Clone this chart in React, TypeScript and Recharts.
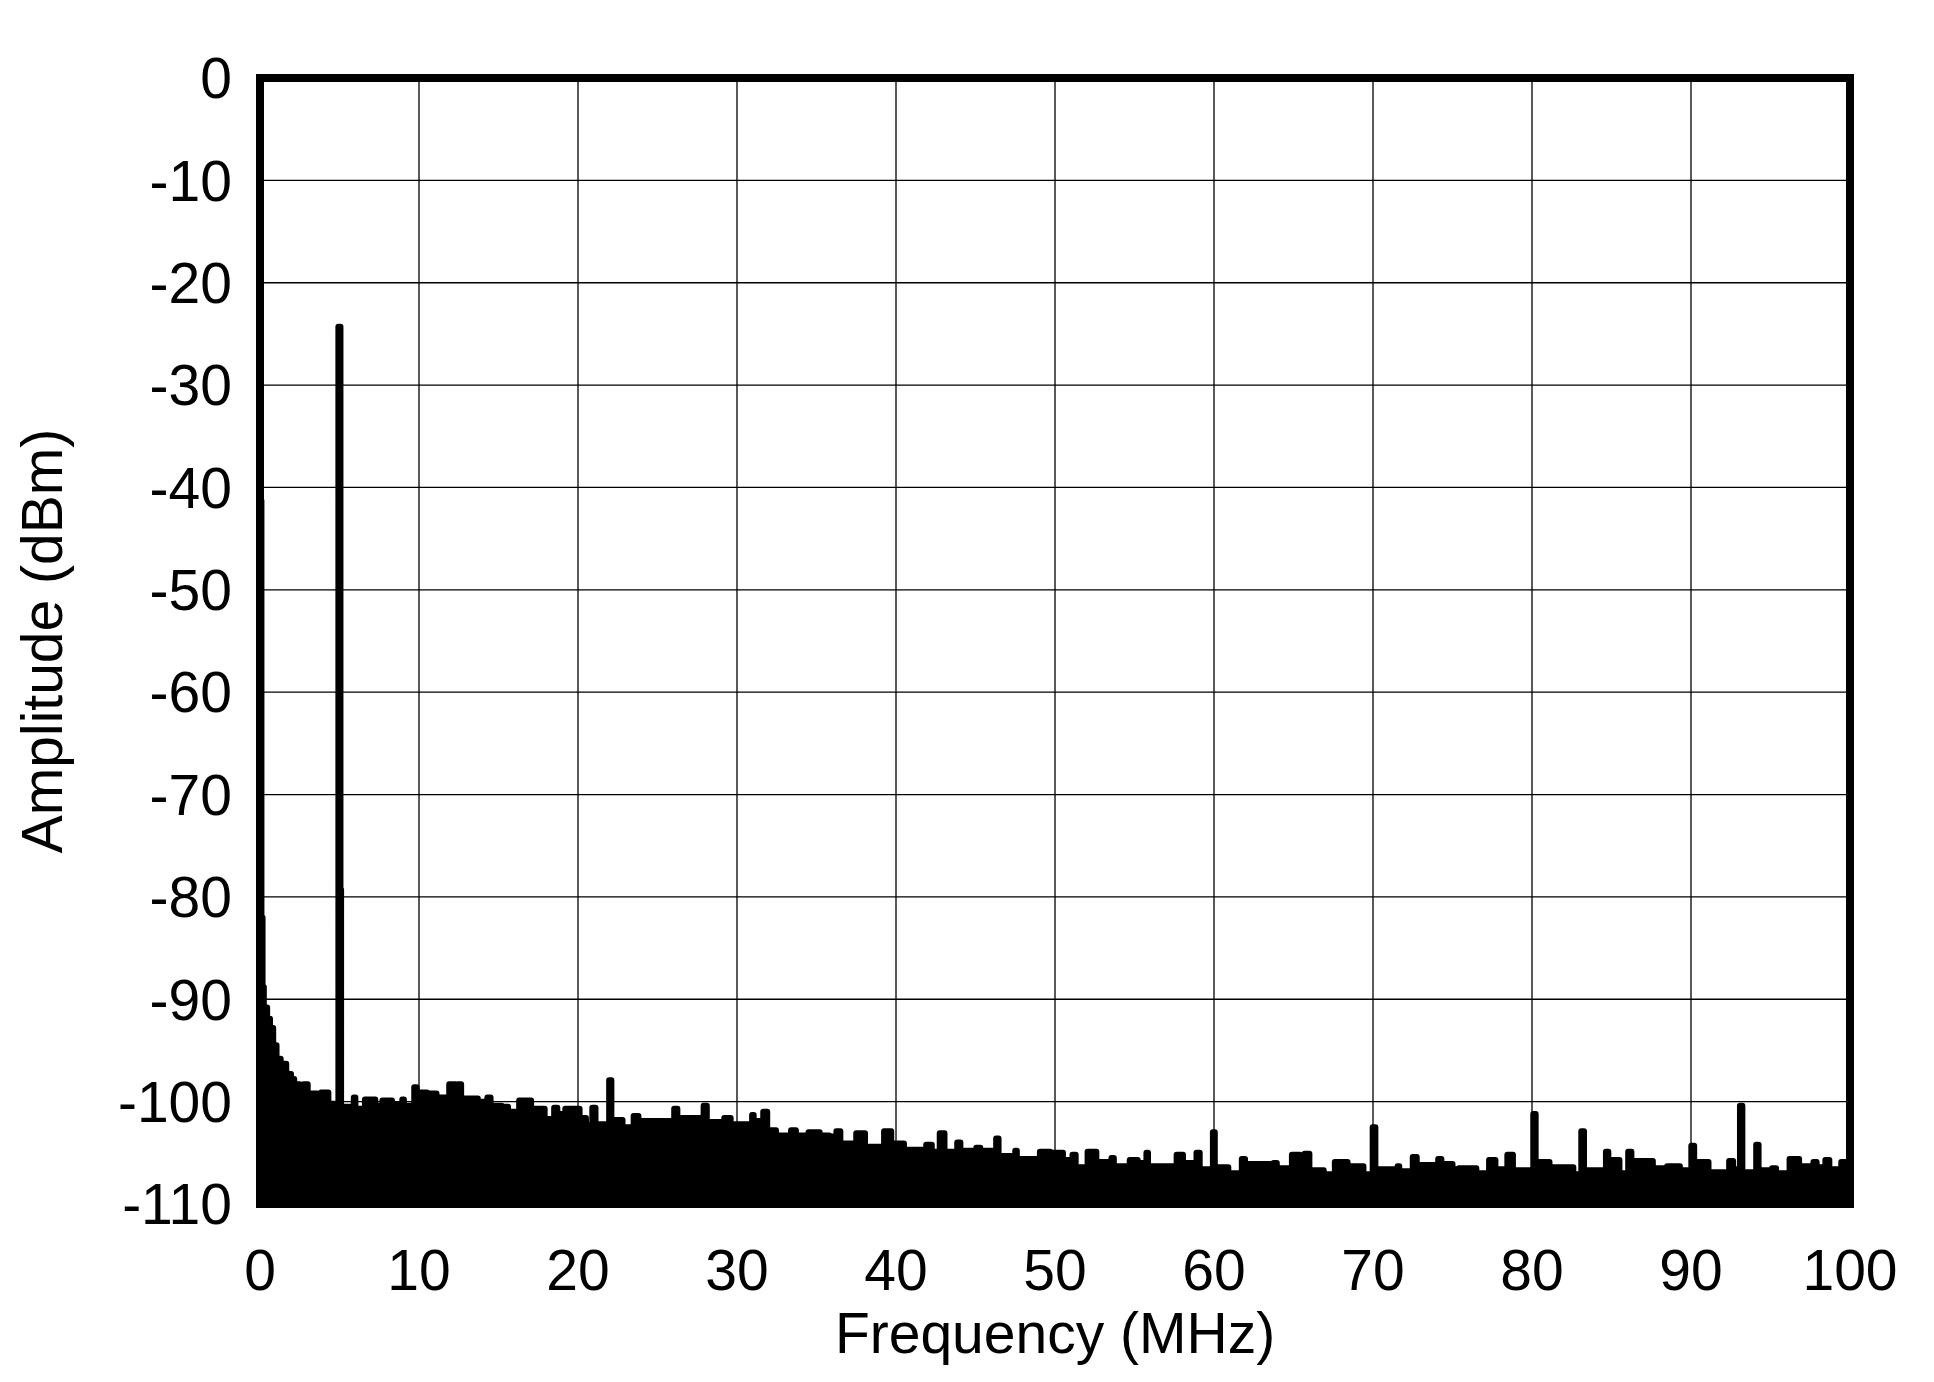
import { ComposedChart, Area, XAxis, YAxis, CartesianGrid, ReferenceArea } from "recharts";

// FFT spectrum: [frequency MHz, amplitude dBm], stepped envelope of the noise floor
const floor0to25: [number, number][] = [
  [0, -41.3], [0.09, -82.0], [0.16, -88.8], [0.24, -90.8], [0.45, -91.9], [0.63, -92.8],
  [0.83, -94.5], [1.04, -95.8], [1.3, -96.3], [1.65, -97.3], [1.95, -97.8], [2.15, -98.3],
  [2.5, -98.6], [2.75, -98.3], [3.0, -99.2], [3.6, -99.5], [3.85, -99.1], [4.3, -100.2],
  [4.93, -24.3], [5.06, -79.3], [5.1, -100.5], [5.9, -99.6],
  [6.0, -100.7], [6.6, -99.8], [7.25, -100.4], [7.7, -99.9], [8.3, -100.3], [8.95, -99.8],
  [9.05, -100.4], [9.7, -98.6], [9.85, -99.1], [10.5, -99.2], [11.1, -99.6], [11.9, -98.3],
  [12.3, -98.7], [12.45, -98.3], [12.65, -99.7], [13.7, -100.0], [14.3, -99.6], [14.5, -100.4],
  [15.2, -100.5], [15.6, -101.0],
  [16.3, -99.9], [17.05, -100.7], [17.9, -101.7], [18.5, -100.6], [18.7, -101.2], [19.2, -100.7],
  [20.1, -101.6], [20.5, -102.3], [20.9, -100.6], [21.1, -102.2], [21.96, -97.9], [22.1, -101.8],
  [22.8, -102.5], [23.5, -101.4], [23.8, -101.9],
];

const floor25to50: [number, number][] = [
  [26.05, -100.7], [26.25, -101.6], [27.9, -100.4], [28.1, -102.0], [29.2, -101.6], [29.6, -102.2],
  [30.95, -101.3], [31.05, -101.9], [31.65, -101.0], [31.9, -102.8], [32.45, -103.3], [33.4, -102.8],
  [33.7, -103.3], [34.5, -103.0], [35.2, -103.3], [35.8, -103.4], [36.25, -102.9], [36.5, -104.1],
  [37.5, -103.1], [38.05, -104.4], [39.25, -102.9], [39.7, -104.1], [40.5, -104.7], [41.9, -104.2],
  [42.25, -104.9], [42.75, -103.1], [43.05, -104.9], [43.85, -104.0], [44.05, -104.8], [45.05, -104.5],
  [45.3, -104.8], [46.3, -103.6], [46.45, -105.3], [47.5, -104.8], [47.6, -105.6], [49.05, -104.9],
  [49.7, -105.0],
];

const floor50to75: [number, number][] = [
  [50.5, -105.7], [51.1, -105.2], [51.3, -106.4], [52.05, -104.9], [52.6, -105.9], [53.55, -105.5],
  [53.7, -106.3], [54.7, -105.7], [55.2, -106.0], [55.75, -105.0], [55.85, -106.3], [57.65, -105.2],
  [58.05, -106.0], [58.9, -105.0], [59.1, -106.6], [59.93, -103.0], [60.05, -106.4], [60.9, -107.0],
  [61.75, -105.6], [61.95, -106.1], [63.75, -106.0], [63.95, -106.5], [64.9, -105.2], [65.4, -105.5],
  [65.7, -105.1], [66.0, -106.7], [66.9, -107.1], [67.6, -105.9], [68.4, -106.3], [69.4, -107.1],
  [69.98, -102.5], [70.15, -106.6], [71.55, -106.3], [71.65, -106.8], [72.5, -105.4], [72.75, -106.2],
  [74.1, -105.6], [74.3, -106.1],
];

const floor75to100: [number, number][] = [
  [75.0, -106.6], [75.4, -106.5], [76.5, -107.0], [77.3, -105.7], [77.7, -106.6], [78.45, -105.2],
  [78.8, -106.7], [80.08, -101.2], [80.23, -105.9], [81.1, -106.4], [82.6, -107.1], [83.1, -102.9],
  [83.27, -106.7], [84.65, -104.9], [84.8, -105.7], [85.5, -107.0], [86.05, -104.9], [86.25, -105.8],
  [87.6, -106.5], [88.5, -106.3], [89.3, -106.7], [90.02, -104.3], [90.2, -105.9], [91.1, -106.9],
  [92.4, -105.8], [92.65, -106.6], [93.08, -100.4], [93.23, -106.9], [94.1, -104.2], [94.25, -106.7],
  [95.1, -106.5], [95.35, -107.0], [96.2, -105.6], [96.8, -106.3], [97.7, -105.9], [97.9, -106.4],
  [98.45, -105.7], [98.7, -106.6], [99.45, -105.9], [99.7, -106.2], [100, -106.2],
];

const freqTicks = [0, 10, 20, 30, 40, 50, 60, 70, 80, 90, 100];
const ampTicks = [0, -10, -20, -30, -40, -50, -60, -70, -80, -90, -100, -110];

const spectrum = [...floor0to25, ...floor25to50, ...floor50to75, ...floor75to100].map(([f, dbm]) => ({ f, dbm }));

const font = '"Liberation Sans", Arial, sans-serif';
const tickStyle = { fill: "#000", fontSize: 57, fontFamily: font };

const XTitle = () => (
  <text x={1055} y={1353} textAnchor="middle" fontSize={57} fontFamily={font} fill="#000">
    Frequency (MHz)
  </text>
);

const YTitle = () => (
  <text x={62} y={641} transform="rotate(-90, 62, 641)" textAnchor="middle" fontSize={57} fontFamily={font} fill="#000">
    Amplitude (dBm)
  </text>
);

export default function App() {
  return (
    <div style={{ width: 1934, height: 1382, background: "#fff" }}>
      <style>{"body{margin:0}"}</style>
      <ComposedChart
        width={1934}
        height={1382}
        data={spectrum}
        margin={{ top: 78, right: 84, bottom: 78, left: 60 }}
      >
        <CartesianGrid stroke="#000" strokeWidth={1.3} />
        <XAxis
          type="number"
          dataKey="f"
          domain={[0, 100]}
          ticks={freqTicks}
          interval={0}
          tickSize={0}
          tickMargin={46}
          axisLine={false}
          tick={tickStyle}
          height={100}
          label={<XTitle />}
        />
        <YAxis
          type="number"
          domain={[-110, 0]}
          ticks={ampTicks}
          interval={0}
          tickSize={0}
          tickMargin={28}
          axisLine={false}
          tick={tickStyle}
          width={200}
          label={<YTitle />}
        />
        <Area
          type="stepAfter"
          dataKey="dbm"
          baseValue={-110}
          stroke="#000"
          strokeWidth={6}
          strokeLinejoin="round"
          strokeLinecap="round"
          fill="#000"
          fillOpacity={1}
          dot={false}
          activeDot={false}
          isAnimationActive={false}
        />
        <ReferenceArea
          x1={0}
          x2={100}
          y1={-110}
          y2={0}
          fill="none"
          stroke="#000"
          strokeWidth={8}
          ifOverflow="visible"
        />
      </ComposedChart>
    </div>
  );
}
